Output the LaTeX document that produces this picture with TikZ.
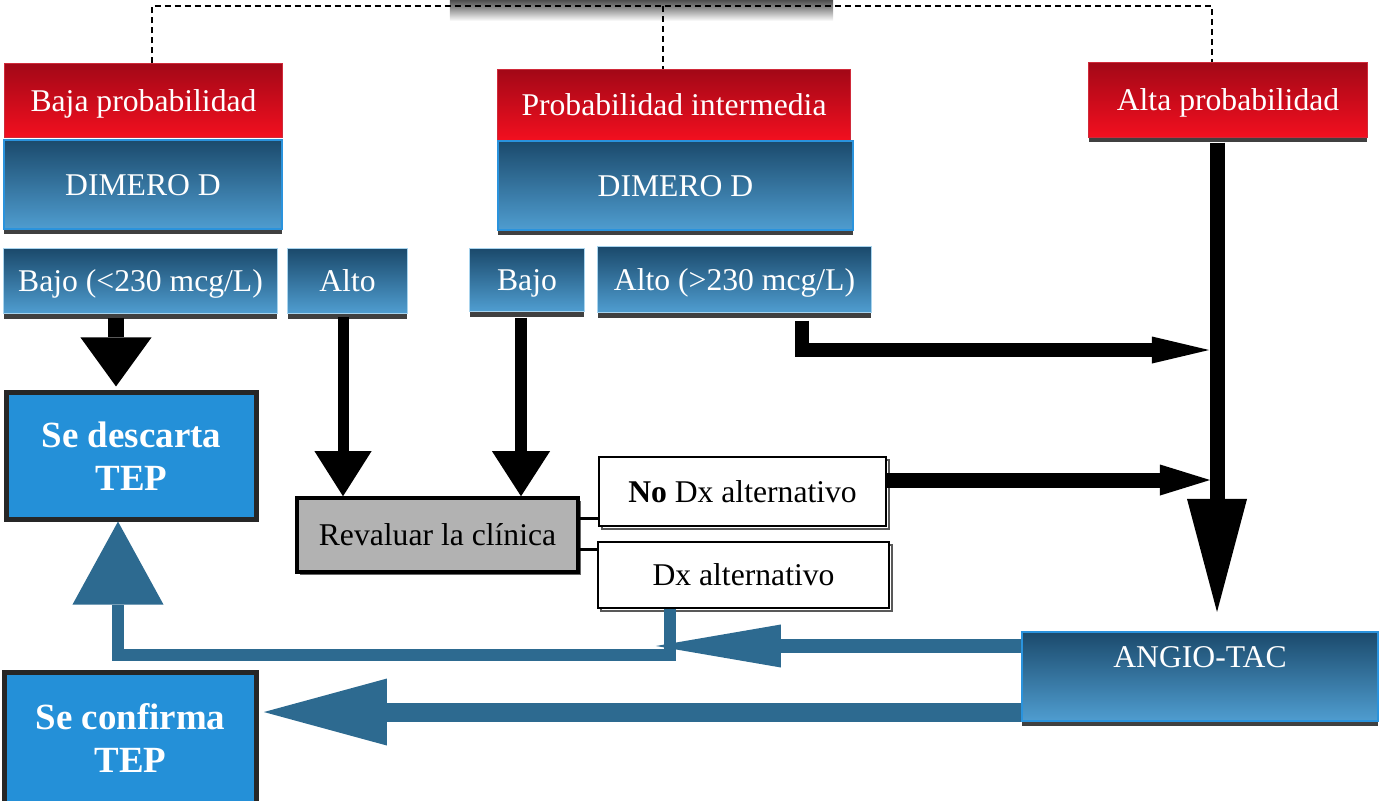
\documentclass[tikz,border=0pt]{standalone}
\usepackage{fontspec}
\setmainfont{Liberation Serif}
\usetikzlibrary{arrows.meta,shadows}
\definecolor{rojoarriba}{HTML}{A30817}
\definecolor{rojoabajo}{HTML}{F20F1F}
\definecolor{rojoborde}{HTML}{D02A3A}
\definecolor{azularriba}{HTML}{1B4A6C}
\definecolor{azulabajo}{HTML}{4F9DD0}
\definecolor{azulborde}{HTML}{2A93DD}
\definecolor{azulclaro}{HTML}{A8D4EE}
\definecolor{azulresultado}{HTML}{2490D8}
\definecolor{azulflecha}{HTML}{2D6A90}
\definecolor{grisclinica}{HTML}{B2B2B2}
\tikzset{
    probbox/.style={
           rectangle,
           draw=rojoborde, line width=0.01cm,
           top color=rojoarriba, bottom color=rojoabajo,
           text=white,
           font=\fontsize{9}{11}\selectfont,
           text height=0.21cm, text depth=0cm,
           inner sep=0pt
           },
    dimbox/.style={
           rectangle,
           draw=azulborde, line width=0.02cm,
           top color=azularriba, bottom color=azulabajo,
           text=white,
           font=\fontsize{9}{11}\selectfont,
           text height=0.21cm, text depth=0cm,
           inner sep=0pt,
           general shadow={fill=black!75, shadow yshift=-0.05cm}
           },
    nivelbox/.style={
           rectangle,
           draw=azulclaro, line width=0.01cm,
           top color=azularriba, bottom color=azulabajo,
           text=white,
           font=\fontsize{9}{11}\selectfont,
           text height=0.21cm, text depth=0cm,
           inner sep=0pt,
           general shadow={fill=black!75, shadow yshift=-0.06cm}
           },
    resultbox/.style={
           rectangle,
           draw=black!85, line width=0.05cm,
           fill=azulresultado,
           text=white, align=center,
           font=\fontsize{10.5}{12.2}\selectfont\bfseries,
           inner sep=0pt
           },
    clinbox/.style={
           rectangle,
           draw=black, line width=0.035cm,
           fill=grisclinica,
           font=\fontsize{9}{11}\selectfont,
           text height=0.21cm, text depth=0cm,
           inner sep=0pt,
           general shadow={fill=black!60, shadow xshift=0.03cm, shadow yshift=-0.03cm}
           },
    dxbox/.style={
           rectangle,
           draw=black, line width=0.02cm,
           fill=white,
           font=\fontsize{9}{11}\selectfont,
           text height=0.21cm, text depth=0cm,
           inner sep=0pt,
           general shadow={draw=black!65, line width=0.025cm, fill=white, shadow xshift=0.03cm, shadow yshift=-0.03cm}
           },
    cabecera/.style={
           rectangle,
           top color=black!85, bottom color=white, middle color=black!45
           },
    enlace/.style={black, line width=0.015cm, dash pattern=on 0.06cm off 0.04cm},
}

\begin{document}
\begin{tikzpicture}[x=0.01cm, y=-0.01cm]
\useasboundingbox (0,0) rectangle (1386,800);
\clip (0,0) rectangle (1386,800);

% cuadro superior (cortado)
\node[cabecera, minimum width=3.83cm, minimum height=0.26cm] (sospecha) at (641.5,8) {};

% probabilidad clinica
\node[probbox, minimum width=2.77cm, minimum height=0.73cm] (baja) at (143.5,100.5) {Baja probabilidad};
\node[probbox, minimum width=3.52cm, minimum height=0.70cm] (intermedia) at (674,105) {Probabilidad intermedia};
\node[probbox, minimum width=2.78cm, minimum height=0.74cm,
      general shadow={fill=black!75, shadow yshift=-0.05cm}] (alta) at (1228,100) {Alta probabilidad};

% dimero D
\node[dimbox, minimum width=2.78cm, minimum height=0.89cm] (dimero1) at (143,184.5) {DIMERO D};
\node[dimbox, minimum width=3.55cm, minimum height=0.89cm] (dimero2) at (675.5,185.5) {DIMERO D};

% resultado del dimero
\node[nivelbox, minimum width=2.73cm, minimum height=0.64cm] (bajo1) at (140.5,281) {Bajo (<230 mcg/L)};
\node[nivelbox, minimum width=1.19cm, minimum height=0.64cm] (alto1) at (347.5,281) {Alto};
\node[nivelbox, minimum width=1.14cm, minimum height=0.62cm] (bajo2) at (527,280) {Bajo};
\node[nivelbox, minimum width=2.73cm, minimum height=0.65cm] (alto2) at (734.5,279.5) {Alto (>230 mcg/L)};

% desenlaces
\node[resultbox, minimum width=2.49cm, minimum height=1.26cm] (descarta) at (131.5,456) {Se descarta\\TEP};
\node[resultbox, minimum width=2.51cm, minimum height=1.30cm] (confirma) at (130.5,738) {Se confirma\\TEP};

\node[clinbox, minimum width=2.81cm, minimum height=0.74cm] (revaluar) at (437.5,535) {Revaluar la clínica};
\node[dxbox, minimum width=2.87cm, minimum height=0.69cm] (nodx) at (742.5,491.5) {\textbf{No} Dx alternativo};
\node[dxbox, minimum width=2.91cm, minimum height=0.66cm] (dx) at (743.5,575) {Dx alternativo};
\node[dimbox, minimum width=3.56cm, minimum height=0.89cm,
      text height=0.22cm, text depth=0.41cm] (angio) at (1200,676.5) {ANGIO-TAC};

% lineas punteadas
\coordinate (bus) at (663,6);
\draw[enlace] (152,0 |- baja.north) |- (bus) -| (1212,0 |- alta.north);
\draw[enlace] (bus) -- (663,0 |- intermedia.north);

% uniones con revaluar
\draw[black, line width=0.03cm] (revaluar.east |- 0,518) -- (nodx.west |- 0,518);
\draw[black, line width=0.03cm] (revaluar.east |- 0,549) -- (dx.west |- 0,549);

% flechas negras
\coordinate (j1) at (1209,350);
\coordinate (j2) at (1210,480);
\draw[black, line width=0.15cm, -{Triangle[length=0.49cm, width=0.71cm, line width=0pt]},
      shorten <=0.04cm, shorten >=0.04cm] (116,0 |- bajo1.south) -- (116,0 |- descarta.north);
\draw[black, line width=0.11cm, -{Triangle[length=0.45cm, width=0.57cm, line width=0pt]},
      shorten <=0.03cm] (343,0 |- alto1.south) -- (343,0 |- revaluar.north);
\draw[black, line width=0.12cm, -{Triangle[length=0.45cm, width=0.58cm, line width=0pt]},
      shorten <=0.06cm] (521,0 |- bajo2.south) -- (521,0 |- revaluar.north);
\draw[black, line width=0.14cm, -{Triangle[length=0.57cm, width=0.27cm, line width=0pt]},
      shorten <=0.08cm] (802,0 |- alto2.south) |- (j1);
\draw[black, line width=0.15cm, -{Triangle[length=0.50cm, width=0.31cm, line width=0pt]}] (nodx.east |- j2) -- (j2);
\draw[black, line width=0.15cm, -{Triangle[length=1.13cm, width=0.60cm, line width=0pt]},
      shorten <=0.05cm, shorten >=0.19cm] (1217,0 |- alta.south) -- (1217,0 |- angio.north);

% flechas azules
\draw[azulflecha, line width=0.13cm, -{Triangle[length=1.25cm, width=0.43cm, line width=0pt]}]
      ([yshift=0.305cm]angio.west) -- ++(-365,0);
\draw[azulflecha, line width=0.12cm, -{Triangle[length=0.83cm, width=0.91cm, line width=0pt]}]
      (670,0 |- dx.south) -- ++(0,46) -| (118,0 |- descarta.south);
\draw[azulflecha, line width=0.19cm, -{Triangle[length=1.23cm, width=0.67cm, line width=0pt]}]
      ([yshift=-0.355cm]angio.west) -- ++(-757,0);

\end{tikzpicture}
\end{document}
